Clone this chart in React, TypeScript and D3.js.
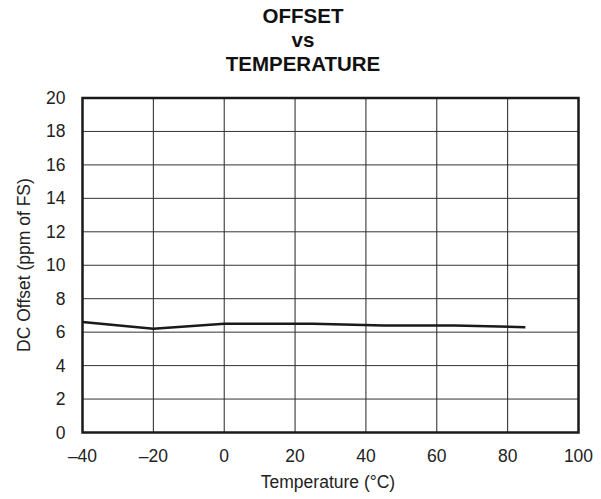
import React from 'react';
import * as d3 from 'd3';

// data
const temps = [-40, -20, 0, 25, 45, 65, 85];
const offsets = [6.6, 6.2, 6.5, 6.5, 6.4, 6.4, 6.3];
const xTicks = [-40, -20, 0, 20, 40, 60, 80, 100];
const yTicks = [0, 2, 4, 6, 8, 10, 12, 14, 16, 18, 20];
const titleLines = ['OFFSET', 'vs', 'TEMPERATURE'];

const W = 601;
const H = 499;
const margin = { top: 98, right: 22.5, bottom: 66.5, left: 82.5 };

const App: React.FC = () => {
  const x = d3.scaleLinear().domain([-40, 100]).range([margin.left, W - margin.right]);
  const y = d3.scaleLinear().domain([0, 20]).range([H - margin.bottom, margin.top]);

  const line = d3.line<number>()
    .x((_, i) => x(temps[i]))
    .y(d => y(d));

  const font = '"Liberation Sans", Arial, sans-serif';

  return (
    <svg width={W} height={H} style={{ position: 'absolute', left: 0, top: 0 }} fontFamily={font}>
      <rect width={W} height={H} fill="#fff" />
      {/* title */}
      {titleLines.map((t, i) => (
        <text key={t} x={303} y={22.5 + i * 24} textAnchor="middle" fontSize={20.5} fontWeight="bold" fill="#111">{t}</text>
      ))}
      {/* grid */}
      {xTicks.slice(1, -1).map(t => (
        <line key={'gx' + t} x1={x(t)} x2={x(t)} y1={y(0)} y2={y(20)} stroke="#222" strokeWidth={1} />
      ))}
      {yTicks.slice(1, -1).map(t => (
        <line key={'gy' + t} x1={x(-40)} x2={x(100)} y1={y(t)} y2={y(t)} stroke="#333" strokeWidth={1} />
      ))}
      {/* data */}
      <path d={line(offsets) || ''} fill="none" stroke="#1a1a1a" strokeWidth={2.5} />
      {/* frame */}
      <rect x={x(-40)} y={y(20)} width={x(100) - x(-40)} height={y(0) - y(20)} fill="none" stroke="#1a1a1a" strokeWidth={2.5} />
      {/* ticks */}
      {xTicks.map(t => (
        <text key={'tx' + t} x={x(t)} y={y(0) + 29.5} textAnchor="middle" fontSize={17.5} fill="#222">
          {t < 0 ? '\u2013' + Math.abs(t) : t}
        </text>
      ))}
      {yTicks.map(t => (
        <text key={'ty' + t} x={x(-40) - 17} y={y(t) + 6} textAnchor="end" fontSize={17.5} fill="#222">{t}</text>
      ))}
      <text x={328} y={488} textAnchor="middle" fontSize={17.5} fill="#222">Temperature (°C)</text>
      <text transform={`translate(29.5,265) rotate(-90)`} textAnchor="middle" fontSize={17.5} fill="#222">
        DC Offset (ppm of FS)
      </text>
    </svg>
  );
};

export default App;
